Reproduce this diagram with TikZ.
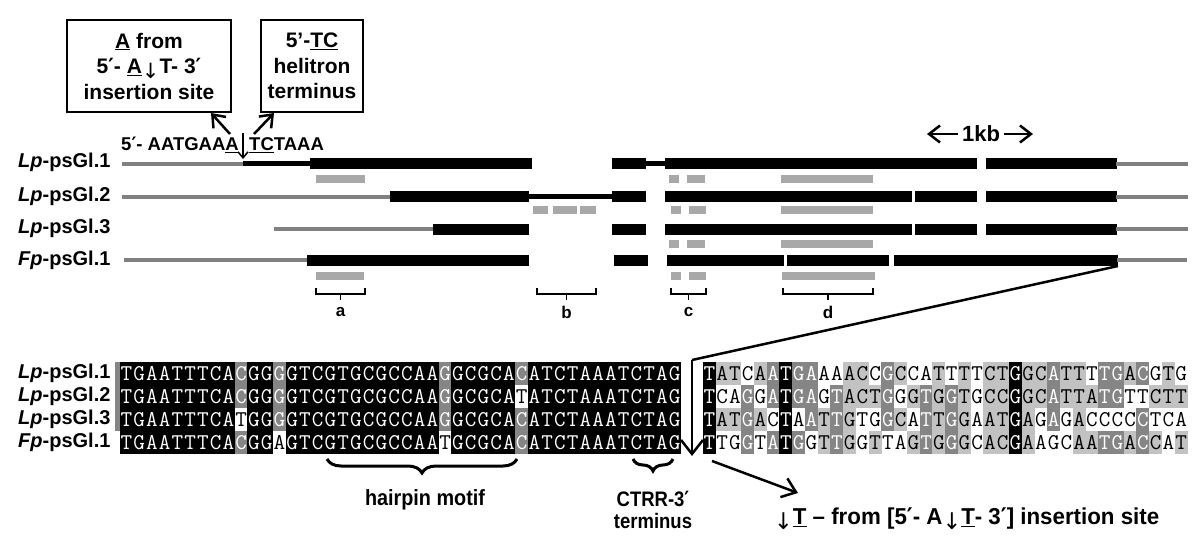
\documentclass[tikz,border=0pt]{standalone}
\usepackage{fontspec}
\setmainfont{Liberation Sans}
\newfontfamily\symf{DejaVu Sans}
\usetikzlibrary{arrows.meta,decorations.pathreplacing}
\definecolor{dkg}{gray}{0.52}
\definecolor{ltg}{gray}{0.76}
\definecolor{lng}{gray}{0.5}
\definecolor{padg}{gray}{0.66}
\newcommand\pr{{\symf\bfseries ′}}
\newcommand\dn{\raisebox{-0.22em}{\symf\mdseries ↓}}
\newcount\alncol
\newcommand\alnrow[4]{\global\alncol=0 \def\alnname{#1}\def\alnx{#2}\def\alny{#3}\alnstep#4\relax\relax}
\def\alnstep#1#2{\ifx#1\relax\else\alncell{#1}{#2}\global\advance\alncol by 1 \expandafter\alnstep\fi}
\newcommand\alncell[2]{\edef\alnnm{\alnname-\the\alncol}\node[cell#2] (\alnnm) at ({\alnx+(\the\alncol+0.5)*12.75},\alny) {#1};}
\newcommand\gl[3]{\fill[lng] (#1,#3-2) rectangle (#2,#3+2);}
\newcommand\gk[3]{\fill[black] (#1,#3-5.5) rectangle (#2,#3+5.5);}
\newcommand\gt[3]{\fill[black] (#1,#3-2.6) rectangle (#2,#3+2.6);}
\newcommand\gp[3]{\fill[padg] (#1,#3-4) rectangle (#2,#3+4);}
\newcommand\brk[3]{\draw[brkline] (#1,288) -- (#1,294) -- (#2,294) -- (#2,288); \draw[brkline] ({(#1+#2)/2},294) -- ({(#1+#2)/2},300);
  \node[small] (lab#3) at ({(#1+#2)/2},312) {#3};}
\begin{document}
\begin{tikzpicture}[x=1pt,y=-1pt,
  cell/.style={inner sep=0pt,outer sep=0pt,minimum width=12.9pt,minimum height=23.2pt,font=\ttfamily\fontsize{22.5}{22.5}\selectfont},
  cellB/.style={cell,fill=black,text=white},
  cellD/.style={cell,fill=dkg,text=white},
  cellL/.style={cell,fill=ltg,text=black},
  cellW/.style={cell,text=black},
  lab/.style={font=\fontsize{20}{20}\selectfont\bfseries,inner sep=0pt,anchor=west},
  small/.style={font=\fontsize{17}{17}\selectfont\bfseries,inner sep=0pt},
  box/.style={draw,line width=1.4pt,minimum height=92pt,inner sep=0pt,align=center,font=\fontsize{21}{25.5}\selectfont\bfseries},
  brkline/.style={line width=1.1pt},
  bigarr/.style={line width=2.5pt,-{Straight Barb[length=11pt,width=17pt]}},
  bnote/.style={font=\fontsize{22}{22}\selectfont\bfseries,inner sep=0pt,align=center}]
\useasboundingbox (0,0) rectangle (1200,543);
% top boxes
\node[box,minimum width=164pt] (b1) at (149,66) {\underline{A} from\\5\pr- \underline{A}\dn T- 3\pr\\insertion site};
\node[box,minimum width=102pt] (b2) at (312,66) {5’-\underline{TC}\\helitron\\terminus};
% insertion sequence
\node[font=\fontsize{18.5}{18.5}\selectfont\bfseries,inner sep=0pt,anchor=east] (seqL) at (239,145) {5\pr- AATGAA\underline{A}};
\node[font=\fontsize{18.5}{18.5}\selectfont\bfseries,inner sep=0pt,anchor=west] (seqR) at (249,145) {\underline{TC}TAAA};
\coordinate (ins) at (243,133);
\coordinate (inst) at (243,159);
\draw[line width=1.5pt,-{Straight Barb[length=6pt,width=10pt]}] (ins) -- (inst);
\coordinate (a1s) at (230,134);
\coordinate (a1e) at (211,113);
\coordinate (a2s) at (254,134);
\coordinate (a2e) at (274,113);
\draw[bigarr] (a1s) -- (a1e);
\draw[bigarr] (a2s) -- (a2e);
% scale
\node[font=\fontsize{22}{22}\selectfont\bfseries,inner sep=0pt] (kb) at (981,134) {1kb};
\coordinate (kbl) at (927,134);
\coordinate (kbr) at (1033,134);
\draw[bigarr] (kb.west) ++(-4,0) -- (kbl);
\draw[bigarr] (kb.east) ++(4,0) -- (kbr);
% labels top
\node[lab] (t1) at (18,162) {\textit{Lp}-psGl.1};
\node[lab] (t2) at (18,196) {\textit{Lp}-psGl.2};
\node[lab] (t3) at (18,228) {\textit{Lp}-psGl.3};
\node[lab] (t4) at (18,260) {\textit{Fp}-psGl.1};
% row 1
\gl{122}{244}{163.5}\gt{243}{312}{163.5}\gk{310}{532}{163.5}\gk{612}{646}{163.5}\gt{645}{666}{163.5}\gk{665}{977}{163.5}\gk{986}{1117}{163.5}\gl{1116}{1188}{163.5}
\gp{316}{365}{178.5}\gp{669}{679}{178.5}\gp{687}{705}{178.5}\gp{781}{873}{178.5}
% row 2
\gl{122}{391}{196.5}\gk{390}{529}{196.5}\gt{528}{613}{196.5}\gk{612}{646}{196.5}\gk{665}{912}{196.5}\gk{915}{977}{196.5}\gk{986}{1117}{196.5}\gl{1116}{1188}{196.5}
\gp{533}{548}{210}\gp{553}{577}{210}\gp{580}{596}{210}\gp{671}{681}{210}\gp{689}{706}{210}\gp{781}{873}{210}
% row 3
\gl{274}{434}{229}\gk{433}{529}{229}\gk{612}{646}{229}\gk{665}{912}{229}\gk{915}{977}{229}\gk{986}{1117}{229}\gl{1116}{1188}{229}
\gp{669}{679}{243.5}\gp{687}{705}{243.5}\gp{781}{873}{243.5}
% row 4
\gl{124}{308}{260}\gk{307}{529}{260}\gk{614}{648}{260}\gk{667}{784}{260}\gk{787}{889}{260}\gk{894}{1118}{260}\gl{1117}{1187}{260}
\gp{316}{364}{275.5}\gp{671}{681}{275.5}\gp{689}{706}{275.5}\gp{782}{875}{275.5}
% brackets
\brk{316}{365}{a}
\brk{537}{596}{b}
\brk{671}{706}{c}
\brk{783}{873}{d}
% alignment labels
\node[lab] (m1) at (18,373.5) {\textit{Lp}-psGl.1};
\node[lab] (m2) at (18,396.5) {\textit{Lp}-psGl.2};
\node[lab] (m3) at (18,419.5) {\textit{Lp}-psGl.3};
\node[lab] (m4) at (18,442.5) {\textit{Fp}-psGl.1};
\fill[dkg] (115,362) rectangle (120,431);
% left alignment block
\alnrow{L1}{120}{373.5}{TBGBABABTBTBTBCBABCDGBGBGDGBTBCBGBTBGBCBGBCBCBABABGDGBCBGBCBABCDABTBCBTBABABABTBCBTBABGB}
\alnrow{L2}{120}{396.5}{TBGBABABTBTBTBCBABCDGBGBGDGBTBCBGBTBGBCBGBCBCBABABGDGBCBGBCBABTWABTBCBTBABABABTBCBTBABGB}
\alnrow{L3}{120}{419.5}{TBGBABABTBTBTBCBABTWGBGBGDGBTBCBGBTBGBCBGBCBCBABABGDGBCBGBCBABCDABTBCBTBABABABTBCBTBABGB}
\alnrow{L4}{120}{442.5}{TBGBABABTBTBTBCBABCDGBGBAWGBTBCBGBTBGBCBGBCBCBABABTWGBCBGBCBABCDABTBCBTBABABABTBCBTBABGB}
% right alignment block
\alnrow{R1}{703}{373.5}{TB AL TL CW AL AD TB GD AD AW AW AL CL CW GD CL CW AW TL TW TL TW CL TL GB GL CL AD TL TL TW TD GD AL CD GW TL GW}
\alnrow{R2}{703}{396.5}{TB CW AW GD GW AD TB GD AD GW TD AL CL TL GD GW GL TD GL GD TL GW CL CL GB GL CL AD TL TL AL TD GD TW TW CL TL TL}
\alnrow{R3}{703}{419.5}{TB AL TL GD AL CW TB AW AD TL TD GL TW GW GD CL AW TD TL GD GL AW AL TL GB AL GW AD GW AL CW CW CW CW CD TW CW AW}
\alnrow{R4}{703}{442.5}{TB TW GW GD TW AD TB GD GW TL TD GL GW TL TW AW GL TD GL GD GL CW AL CL GB AL AW GW CW AL AL TD GD AL CD CL AW TL}
% zoom connector
\coordinate (gend) at (1118,266);
\coordinate (knee) at (692,360);
\coordinate (tip) at (692,456);
\draw[line width=2.5pt,line join=miter] (gend) -- (knee);
\draw[line width=2.5pt,-{Straight Barb[length=14pt,width=22pt]}] (knee) -- (tip);
% braces
\draw[line width=3pt,decorate,decoration={brace,amplitude=14pt,mirror}] (327,459) -- (517,459);
\draw[line width=3pt,decorate,decoration={brace,amplitude=12pt,mirror}] (633,459) -- (673,459);
\node[bnote] (hp) at (425,500) {\scalebox{0.9}[1]{hairpin motif}};
\node[font=\fontsize{21}{22}\selectfont\bfseries,inner sep=0pt,align=center] (ct) at (653,510) {\scalebox{0.88}[1]{CTRR-3\pr}\\\scalebox{0.88}[1]{terminus}};
% insertion note
\coordinate (ns) at (712,461);
\coordinate (ne) at (798,493);
\draw[line width=2.5pt,-{Straight Barb[length=13pt,width=20pt]}] (ns) -- (ne);
\node[font=\fontsize{23}{23}\selectfont\bfseries,inner sep=0pt,anchor=west] (note) at (774,519) {\scalebox{0.97}[1]{\dn\underline{T} – from [5\pr- A\dn\underline{T}- 3\pr] insertion site}};
\end{tikzpicture}
\end{document}
